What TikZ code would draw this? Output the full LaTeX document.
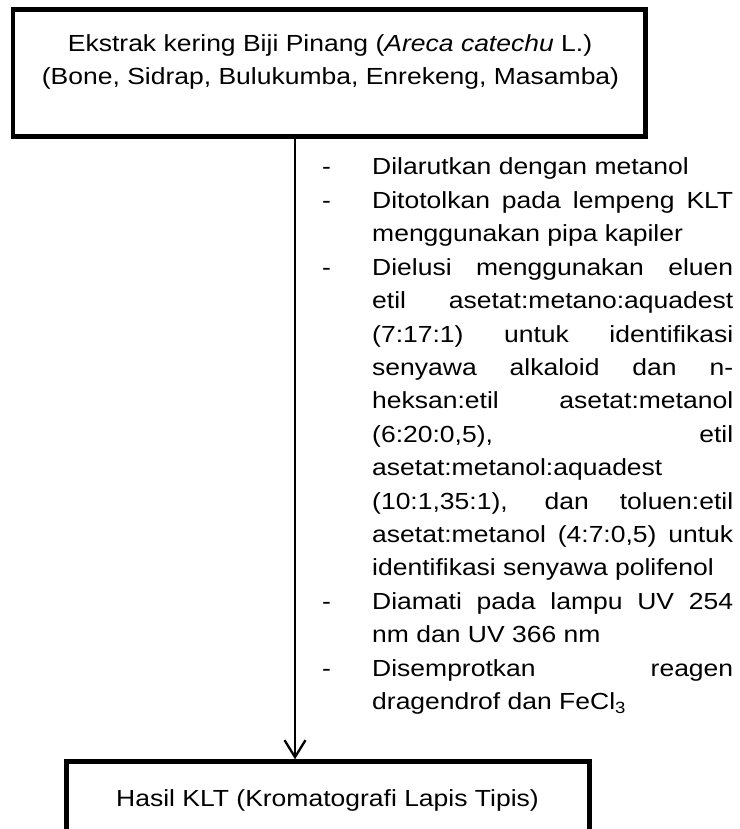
\documentclass[tikz,border=0pt]{standalone}
\usepackage{fontspec}
\usepackage{graphicx}
\setmainfont{Liberation Sans}
\usetikzlibrary{arrows.meta}
\newcommand\bodyfont{\fontsize{23.3}{33.4}\selectfont}
\newcommand\W[1]{\scalebox{1.137}[1]{#1}}
\newcommand\J[1]{\W{\makebox[317.5pt][s]{#1}}}
\begin{document}
\begin{tikzpicture}[x=1pt,y=-1pt,
  box/.style={draw, line width=4.8pt, inner sep=0pt},
  ln/.style={anchor=base west, inner sep=0pt, font=\bodyfont},
  ctr/.style={anchor=base, inner sep=0pt, font=\bodyfont},
  arr/.style={line width=2.3pt, -{Straight Barb[length=17pt,width=21pt]}}]
\useasboundingbox (0,0) rectangle (739,829);
\clip (0,0) rectangle (739,829);
% boxes
\node[box, minimum width=632.5pt, minimum height=127.3pt] (top) at (329.25,73.15) {};
\node[ctr] (t1) at (330,51.5) {\W{Ekstrak kering Biji Pinang (\textit{Areca catechu} L.)}};
\node[ctr] (t2) at (330.5,84.5) {\W{(Bone, Sidrap, Bulukumba, Enrekeng, Masamba)}};
\node[box, minimum width=522.4pt, minimum height=110pt] (bot) at (328,816.7) {};
\node[ctr] (b1) at (327.5,806) {\W{Hasil KLT (Kromatografi Lapis Tipis)}};
% arrow
\coordinate (ax) at (295,0);
\draw[arr] (top.south -| ax) -- (bot.north -| ax);
% dashes
\node[ln] (d1) at (322,175) {\W{-}};
\node[ln] (d2) at (322,208.4) {\W{-}};
\node[ln] (d3) at (322,275.2) {\W{-}};
\node[ln] (d4) at (322,609.2) {\W{-}};
\node[ln] (d5) at (322,676) {\W{-}};
% lines
\node[ln] (l1) at (372,175) {\W{Dilarutkan dengan metanol}};
\node[ln] (l2) at (372,208.4) {\J{Ditotolkan pada lempeng KLT}};
\node[ln] (l3) at (372,241.8) {\W{menggunakan pipa kapiler}};
\node[ln] (l4) at (372,275.2) {\J{Dielusi menggunakan eluen}};
\node[ln] (l5) at (372,308.6) {\J{etil asetat:metano:aquadest}};
\node[ln] (l6) at (372,342) {\J{(7:17:1) untuk identifikasi}};
\node[ln] (l7) at (372,375.4) {\J{senyawa alkaloid dan n-}};
\node[ln] (l8) at (372,408.8) {\J{heksan:etil asetat:metanol}};
\node[ln] (l9) at (372,442.2) {\J{(6:20:0,5), etil}};
\node[ln] (l10) at (372,475.6) {\W{asetat:metanol:aquadest}};
\node[ln] (l11) at (372,509) {\J{(10:1,35:1), dan toluen:etil}};
\node[ln] (l12) at (372,542.4) {\J{asetat:metanol (4:7:0,5) untuk}};
\node[ln] (l13) at (372,575.8) {\W{identifikasi senyawa polifenol}};
\node[ln] (l14) at (372,609.2) {\J{Diamati pada lampu UV 254}};
\node[ln] (l15) at (372,642.6) {\W{nm dan UV 366 nm}};
\node[ln] (l16) at (372,676) {\J{Disemprotkan reagen}};
\node[ln] (l17) at (372,709.4) {\W{dragendrof dan FeCl\textsubscript{3}}};
\end{tikzpicture}
\end{document}
